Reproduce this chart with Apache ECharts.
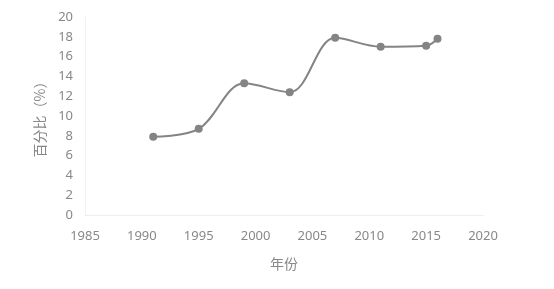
<!DOCTYPE html>
<html><head><meta charset="utf-8">
<script src="https://cdn.jsdelivr.net/npm/echarts@6/dist/echarts.min.js"></script>
<style>html,body{margin:0;padding:0;background:#fff}#c{width:554px;height:289px}</style>
</head><body><div id="c"></div>
<script>
var years = [1991, 1995, 1999, 2003, 2007, 2011, 2015, 2016];
var values = [7.9, 8.7, 13.3, 12.4, 17.9, 17.0, 17.1, 17.8];
var chart = echarts.init(document.getElementById('c'));
var labelColor = '#888888';
chart.setOption({
  animation: false,
  grid: {left: 85, right: 71, top: 17, bottom: 74},
  xAxis: {
    type: 'value', min: 1985, max: 2020, interval: 5,
    name: '年份', nameLocation: 'middle', nameGap: 42,
    nameTextStyle: {color: labelColor, fontSize: 14, fontFamily: 'Noto Sans CJK SC'},
    axisLine: {show: true, lineStyle: {color: '#eeeeee'}},
    axisTick: {show: false},
    splitLine: {show: false},
    axisLabel: {color: labelColor, fontSize: 13, margin: 15, fontFamily: 'Noto Sans',
      formatter: function(v){ return String(v); }}
  },
  yAxis: {
    type: 'value', min: 0, max: 20, interval: 2,
    name: '百分比（%）', nameLocation: 'middle', nameGap: 38,
    nameTextStyle: {color: labelColor, fontSize: 14, fontFamily: 'Noto Sans CJK SC'},
    axisLine: {show: true, lineStyle: {color: '#f2f2f2'}},
    axisTick: {show: false},
    splitLine: {show: false},
    axisLabel: {color: labelColor, fontSize: 13, margin: 12, fontFamily: 'Noto Sans'}
  },
  series: [{
    type: 'line', smooth: 0.35,
    data: years.map(function(y, i){ return [y, values[i]]; }),
    symbol: 'circle', symbolSize: 8,
    lineStyle: {color: '#848484', width: 2},
    itemStyle: {color: '#848484'}
  }]
});
</script></body></html>
